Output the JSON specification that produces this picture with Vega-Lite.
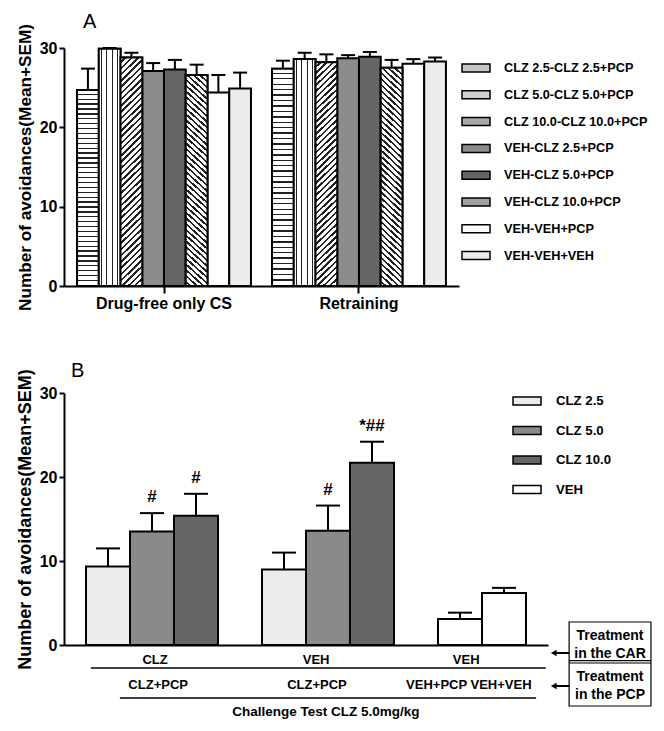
{
  "$schema": "https://vega.github.io/schema/vega-lite/v6.json",
  "padding": {"left": 16, "top": 12, "right": 0, "bottom": 0},
  "background": "white",
  "config": {
    "font": "Liberation Sans",
    "view": {"stroke": null},
    "axis": {"domainColor": "black", "domainWidth": 2, "tickColor": "black", "tickWidth": 2, "labelColor": "black", "titleColor": "black", "labelFont": "Liberation Sans", "titleFont": "Liberation Sans", "labelFontWeight": "bold", "titleFontWeight": "bold", "grid": false},
    "legend": {"labelFont": "Liberation Sans", "labelColor": "black", "labelFontWeight": "bold", "labelLimit": 300},
    "title": {"font": "Liberation Sans", "color": "black", "fontWeight": "normal"}
  },
  "spacing": 49,
  "resolve": {"scale": {"fill": "independent"}, "legend": {"fill": "independent"}},
  "vconcat": [
    {
      "title": {"text": "A", "anchor": "start", "frame": "group", "fontSize": 20, "dx": 19, "offset": -9},
      "width": 395,
      "height": 238,
      "data": {"values": [
        {"phase": "Drug-free only CS", "group": "CLZ 2.5-CLZ 2.5+PCP", "mean": 24.7, "upper": 27.4},
        {"phase": "Drug-free only CS", "group": "CLZ 5.0-CLZ 5.0+PCP", "mean": 29.9, "upper": 30.0},
        {"phase": "Drug-free only CS", "group": "CLZ 10.0-CLZ 10.0+PCP", "mean": 28.8, "upper": 29.4},
        {"phase": "Drug-free only CS", "group": "VEH-CLZ 2.5+PCP", "mean": 27.1, "upper": 28.1},
        {"phase": "Drug-free only CS", "group": "VEH-CLZ 5.0+PCP", "mean": 27.3, "upper": 28.5},
        {"phase": "Drug-free only CS", "group": "VEH-CLZ 10.0+PCP", "mean": 26.6, "upper": 27.9},
        {"phase": "Drug-free only CS", "group": "VEH-VEH+PCP", "mean": 24.4, "upper": 26.6},
        {"phase": "Drug-free only CS", "group": "VEH-VEH+VEH", "mean": 24.9, "upper": 26.9},
        {"phase": "Retraining", "group": "CLZ 2.5-CLZ 2.5+PCP", "mean": 27.4, "upper": 28.4},
        {"phase": "Retraining", "group": "CLZ 5.0-CLZ 5.0+PCP", "mean": 28.6, "upper": 29.4},
        {"phase": "Retraining", "group": "CLZ 10.0-CLZ 10.0+PCP", "mean": 28.2, "upper": 29.2},
        {"phase": "Retraining", "group": "VEH-CLZ 2.5+PCP", "mean": 28.7, "upper": 29.1},
        {"phase": "Retraining", "group": "VEH-CLZ 5.0+PCP", "mean": 28.9, "upper": 29.5},
        {"phase": "Retraining", "group": "VEH-CLZ 10.0+PCP", "mean": 27.5, "upper": 28.5},
        {"phase": "Retraining", "group": "VEH-VEH+PCP", "mean": 28.0, "upper": 28.6},
        {"phase": "Retraining", "group": "VEH-VEH+VEH", "mean": 28.3, "upper": 28.8}
      ]},
      "encoding": {
        "x": {"field": "phase", "type": "nominal", "sort": ["Drug-free only CS", "Retraining"], "scale": {"paddingInner": 0.108, "paddingOuter": 0.067}, "axis": {"title": null, "labelAngle": 0, "labelFontSize": 16, "tickSize": 7, "labelPadding": 2}},
        "xOffset": {"field": "group", "type": "nominal", "scale": {"domain": ["CLZ 2.5-CLZ 2.5+PCP", "CLZ 5.0-CLZ 5.0+PCP", "CLZ 10.0-CLZ 10.0+PCP", "VEH-CLZ 2.5+PCP", "VEH-CLZ 5.0+PCP", "VEH-CLZ 10.0+PCP", "VEH-VEH+PCP", "VEH-VEH+VEH"], "paddingInner": 0, "paddingOuter": 0}},
        "y": {"field": "mean", "type": "quantitative", "title": "Number of avoidances(Mean+SEM)", "scale": {"domain": [0, 30], "nice": false}, "axis": {"values": [0, 10, 20, 30], "titleFontSize": 17.2, "labelFontSize": 16, "tickSize": 5, "labelPadding": 2, "titlePadding": 5}}
      },
      "layer": [
        {
          "mark": {"type": "bar", "stroke": "black", "strokeWidth": 2},
          "encoding": {
            "fill": {
              "field": "group", "type": "nominal",
              "scale": {
                "domain": ["CLZ 2.5-CLZ 2.5+PCP", "CLZ 5.0-CLZ 5.0+PCP", "CLZ 10.0-CLZ 10.0+PCP", "VEH-CLZ 2.5+PCP", "VEH-CLZ 5.0+PCP", "VEH-CLZ 10.0+PCP", "VEH-VEH+PCP", "VEH-VEH+VEH"],
                "range": ["#c4c4c4", "#cfcfcf", "#a8a8a8", "#8c8c8c", "#666666", "#a0a0a0", "#ffffff", "#ececec"]
              },
              "legend": {"title": null, "orient": "none", "legendX": 397, "legendY": 5, "symbolType": "M-1,-0.286H1V0.286H-1Z", "symbolSize": 784, "symbolStrokeColor": "black", "symbolStrokeWidth": 1.5, "labelFontSize": 12.7, "labelOffset": 13, "rowPadding": 3.8}
            }
          }
        },
        {
          "transform": [{"filter": "datum.group === 'CLZ 2.5-CLZ 2.5+PCP'"}],
          "mark": {"type": "bar", "stroke": "black", "strokeWidth": 2, "fill": {"gradient": "linear", "x1": 0, "y1": 0, "x2": 0, "y2": 1, "stops": [
            {"offset": 0, "color": "#fff"}, {"offset": 0.0185, "color": "#fff"}, {"offset": 0.0185, "color": "#222"}, {"offset": 0.025, "color": "#222"},
            {"offset": 0.025, "color": "#fff"}, {"offset": 0.0435, "color": "#fff"}, {"offset": 0.0435, "color": "#222"}, {"offset": 0.05, "color": "#222"},
            {"offset": 0.05, "color": "#fff"}, {"offset": 0.0685, "color": "#fff"}, {"offset": 0.0685, "color": "#222"}, {"offset": 0.075, "color": "#222"},
            {"offset": 0.075, "color": "#fff"}, {"offset": 0.0935, "color": "#fff"}, {"offset": 0.0935, "color": "#222"}, {"offset": 0.1, "color": "#222"},
            {"offset": 0.1, "color": "#fff"}, {"offset": 0.1185, "color": "#fff"}, {"offset": 0.1185, "color": "#222"}, {"offset": 0.125, "color": "#222"},
            {"offset": 0.125, "color": "#fff"}, {"offset": 0.1435, "color": "#fff"}, {"offset": 0.1435, "color": "#222"}, {"offset": 0.15, "color": "#222"},
            {"offset": 0.15, "color": "#fff"}, {"offset": 0.1685, "color": "#fff"}, {"offset": 0.1685, "color": "#222"}, {"offset": 0.175, "color": "#222"},
            {"offset": 0.175, "color": "#fff"}, {"offset": 0.1935, "color": "#fff"}, {"offset": 0.1935, "color": "#222"}, {"offset": 0.2, "color": "#222"},
            {"offset": 0.2, "color": "#fff"}, {"offset": 0.2185, "color": "#fff"}, {"offset": 0.2185, "color": "#222"}, {"offset": 0.225, "color": "#222"},
            {"offset": 0.225, "color": "#fff"}, {"offset": 0.2435, "color": "#fff"}, {"offset": 0.2435, "color": "#222"}, {"offset": 0.25, "color": "#222"},
            {"offset": 0.25, "color": "#fff"}, {"offset": 0.2685, "color": "#fff"}, {"offset": 0.2685, "color": "#222"}, {"offset": 0.275, "color": "#222"},
            {"offset": 0.275, "color": "#fff"}, {"offset": 0.2935, "color": "#fff"}, {"offset": 0.2935, "color": "#222"}, {"offset": 0.3, "color": "#222"},
            {"offset": 0.3, "color": "#fff"}, {"offset": 0.3185, "color": "#fff"}, {"offset": 0.3185, "color": "#222"}, {"offset": 0.325, "color": "#222"},
            {"offset": 0.325, "color": "#fff"}, {"offset": 0.3435, "color": "#fff"}, {"offset": 0.3435, "color": "#222"}, {"offset": 0.35, "color": "#222"},
            {"offset": 0.35, "color": "#fff"}, {"offset": 0.3685, "color": "#fff"}, {"offset": 0.3685, "color": "#222"}, {"offset": 0.375, "color": "#222"},
            {"offset": 0.375, "color": "#fff"}, {"offset": 0.3935, "color": "#fff"}, {"offset": 0.3935, "color": "#222"}, {"offset": 0.4, "color": "#222"},
            {"offset": 0.4, "color": "#fff"}, {"offset": 0.4185, "color": "#fff"}, {"offset": 0.4185, "color": "#222"}, {"offset": 0.425, "color": "#222"},
            {"offset": 0.425, "color": "#fff"}, {"offset": 0.4435, "color": "#fff"}, {"offset": 0.4435, "color": "#222"}, {"offset": 0.45, "color": "#222"},
            {"offset": 0.45, "color": "#fff"}, {"offset": 0.4685, "color": "#fff"}, {"offset": 0.4685, "color": "#222"}, {"offset": 0.475, "color": "#222"},
            {"offset": 0.475, "color": "#fff"}, {"offset": 0.4935, "color": "#fff"}, {"offset": 0.4935, "color": "#222"}, {"offset": 0.5, "color": "#222"},
            {"offset": 0.5, "color": "#fff"}, {"offset": 0.5185, "color": "#fff"}, {"offset": 0.5185, "color": "#222"}, {"offset": 0.525, "color": "#222"},
            {"offset": 0.525, "color": "#fff"}, {"offset": 0.5435, "color": "#fff"}, {"offset": 0.5435, "color": "#222"}, {"offset": 0.55, "color": "#222"},
            {"offset": 0.55, "color": "#fff"}, {"offset": 0.5685, "color": "#fff"}, {"offset": 0.5685, "color": "#222"}, {"offset": 0.575, "color": "#222"},
            {"offset": 0.575, "color": "#fff"}, {"offset": 0.5935, "color": "#fff"}, {"offset": 0.5935, "color": "#222"}, {"offset": 0.6, "color": "#222"},
            {"offset": 0.6, "color": "#fff"}, {"offset": 0.6185, "color": "#fff"}, {"offset": 0.6185, "color": "#222"}, {"offset": 0.625, "color": "#222"},
            {"offset": 0.625, "color": "#fff"}, {"offset": 0.6435, "color": "#fff"}, {"offset": 0.6435, "color": "#222"}, {"offset": 0.65, "color": "#222"},
            {"offset": 0.65, "color": "#fff"}, {"offset": 0.6685, "color": "#fff"}, {"offset": 0.6685, "color": "#222"}, {"offset": 0.675, "color": "#222"},
            {"offset": 0.675, "color": "#fff"}, {"offset": 0.6935, "color": "#fff"}, {"offset": 0.6935, "color": "#222"}, {"offset": 0.7, "color": "#222"},
            {"offset": 0.7, "color": "#fff"}, {"offset": 0.7185, "color": "#fff"}, {"offset": 0.7185, "color": "#222"}, {"offset": 0.725, "color": "#222"},
            {"offset": 0.725, "color": "#fff"}, {"offset": 0.7435, "color": "#fff"}, {"offset": 0.7435, "color": "#222"}, {"offset": 0.75, "color": "#222"},
            {"offset": 0.75, "color": "#fff"}, {"offset": 0.7685, "color": "#fff"}, {"offset": 0.7685, "color": "#222"}, {"offset": 0.775, "color": "#222"},
            {"offset": 0.775, "color": "#fff"}, {"offset": 0.7935, "color": "#fff"}, {"offset": 0.7935, "color": "#222"}, {"offset": 0.8, "color": "#222"},
            {"offset": 0.8, "color": "#fff"}, {"offset": 0.8185, "color": "#fff"}, {"offset": 0.8185, "color": "#222"}, {"offset": 0.825, "color": "#222"},
            {"offset": 0.825, "color": "#fff"}, {"offset": 0.8435, "color": "#fff"}, {"offset": 0.8435, "color": "#222"}, {"offset": 0.85, "color": "#222"},
            {"offset": 0.85, "color": "#fff"}, {"offset": 0.8685, "color": "#fff"}, {"offset": 0.8685, "color": "#222"}, {"offset": 0.875, "color": "#222"},
            {"offset": 0.875, "color": "#fff"}, {"offset": 0.8935, "color": "#fff"}, {"offset": 0.8935, "color": "#222"}, {"offset": 0.9, "color": "#222"},
            {"offset": 0.9, "color": "#fff"}, {"offset": 0.9185, "color": "#fff"}, {"offset": 0.9185, "color": "#222"}, {"offset": 0.925, "color": "#222"},
            {"offset": 0.925, "color": "#fff"}, {"offset": 0.9435, "color": "#fff"}, {"offset": 0.9435, "color": "#222"}, {"offset": 0.95, "color": "#222"},
            {"offset": 0.95, "color": "#fff"}, {"offset": 0.9685, "color": "#fff"}, {"offset": 0.9685, "color": "#222"}, {"offset": 0.975, "color": "#222"},
            {"offset": 0.975, "color": "#fff"}, {"offset": 0.9935, "color": "#fff"}, {"offset": 0.9935, "color": "#222"}, {"offset": 1, "color": "#222"}
          ]}},
          "encoding": {}
        },
        {
          "transform": [{"filter": "datum.group === 'CLZ 5.0-CLZ 5.0+PCP'"}],
          "mark": {"type": "bar", "stroke": "black", "strokeWidth": 2, "fill": {"gradient": "linear", "x1": 0, "y1": 0, "x2": 1, "y2": 0, "stops": [
            {"offset": 0, "color": "#fff"}, {"offset": 0.1, "color": "#fff"}, {"offset": 0.1, "color": "#222"}, {"offset": 0.15, "color": "#222"},
            {"offset": 0.15, "color": "#fff"}, {"offset": 0.35, "color": "#fff"}, {"offset": 0.35, "color": "#222"}, {"offset": 0.4, "color": "#222"},
            {"offset": 0.4, "color": "#fff"}, {"offset": 0.6, "color": "#fff"}, {"offset": 0.6, "color": "#222"}, {"offset": 0.65, "color": "#222"},
            {"offset": 0.65, "color": "#fff"}, {"offset": 0.85, "color": "#fff"}, {"offset": 0.85, "color": "#222"}, {"offset": 0.9, "color": "#222"},
            {"offset": 0.9, "color": "#fff"}, {"offset": 1, "color": "#fff"}
          ]}},
          "encoding": {}
        },
        {
          "transform": [{"filter": "datum.group === 'CLZ 10.0-CLZ 10.0+PCP'"}],
          "mark": {"type": "bar", "stroke": "black", "strokeWidth": 2, "fill": {"gradient": "linear", "x1": 0, "y1": 0, "x2": 0.1008, "y2": 1.0837, "stops": [
            {"offset": 0, "color": "#fff"}, {"offset": 0.015, "color": "#fff"}, {"offset": 0.015, "color": "#222"}, {"offset": 0.025, "color": "#222"},
            {"offset": 0.025, "color": "#fff"}, {"offset": 0.04, "color": "#fff"}, {"offset": 0.04, "color": "#222"}, {"offset": 0.05, "color": "#222"},
            {"offset": 0.05, "color": "#fff"}, {"offset": 0.065, "color": "#fff"}, {"offset": 0.065, "color": "#222"}, {"offset": 0.075, "color": "#222"},
            {"offset": 0.075, "color": "#fff"}, {"offset": 0.09, "color": "#fff"}, {"offset": 0.09, "color": "#222"}, {"offset": 0.1, "color": "#222"},
            {"offset": 0.1, "color": "#fff"}, {"offset": 0.115, "color": "#fff"}, {"offset": 0.115, "color": "#222"}, {"offset": 0.125, "color": "#222"},
            {"offset": 0.125, "color": "#fff"}, {"offset": 0.14, "color": "#fff"}, {"offset": 0.14, "color": "#222"}, {"offset": 0.15, "color": "#222"},
            {"offset": 0.15, "color": "#fff"}, {"offset": 0.165, "color": "#fff"}, {"offset": 0.165, "color": "#222"}, {"offset": 0.175, "color": "#222"},
            {"offset": 0.175, "color": "#fff"}, {"offset": 0.19, "color": "#fff"}, {"offset": 0.19, "color": "#222"}, {"offset": 0.2, "color": "#222"},
            {"offset": 0.2, "color": "#fff"}, {"offset": 0.215, "color": "#fff"}, {"offset": 0.215, "color": "#222"}, {"offset": 0.225, "color": "#222"},
            {"offset": 0.225, "color": "#fff"}, {"offset": 0.24, "color": "#fff"}, {"offset": 0.24, "color": "#222"}, {"offset": 0.25, "color": "#222"},
            {"offset": 0.25, "color": "#fff"}, {"offset": 0.265, "color": "#fff"}, {"offset": 0.265, "color": "#222"}, {"offset": 0.275, "color": "#222"},
            {"offset": 0.275, "color": "#fff"}, {"offset": 0.29, "color": "#fff"}, {"offset": 0.29, "color": "#222"}, {"offset": 0.3, "color": "#222"},
            {"offset": 0.3, "color": "#fff"}, {"offset": 0.315, "color": "#fff"}, {"offset": 0.315, "color": "#222"}, {"offset": 0.325, "color": "#222"},
            {"offset": 0.325, "color": "#fff"}, {"offset": 0.34, "color": "#fff"}, {"offset": 0.34, "color": "#222"}, {"offset": 0.35, "color": "#222"},
            {"offset": 0.35, "color": "#fff"}, {"offset": 0.365, "color": "#fff"}, {"offset": 0.365, "color": "#222"}, {"offset": 0.375, "color": "#222"},
            {"offset": 0.375, "color": "#fff"}, {"offset": 0.39, "color": "#fff"}, {"offset": 0.39, "color": "#222"}, {"offset": 0.4, "color": "#222"},
            {"offset": 0.4, "color": "#fff"}, {"offset": 0.415, "color": "#fff"}, {"offset": 0.415, "color": "#222"}, {"offset": 0.425, "color": "#222"},
            {"offset": 0.425, "color": "#fff"}, {"offset": 0.44, "color": "#fff"}, {"offset": 0.44, "color": "#222"}, {"offset": 0.45, "color": "#222"},
            {"offset": 0.45, "color": "#fff"}, {"offset": 0.465, "color": "#fff"}, {"offset": 0.465, "color": "#222"}, {"offset": 0.475, "color": "#222"},
            {"offset": 0.475, "color": "#fff"}, {"offset": 0.49, "color": "#fff"}, {"offset": 0.49, "color": "#222"}, {"offset": 0.5, "color": "#222"},
            {"offset": 0.5, "color": "#fff"}, {"offset": 0.515, "color": "#fff"}, {"offset": 0.515, "color": "#222"}, {"offset": 0.525, "color": "#222"},
            {"offset": 0.525, "color": "#fff"}, {"offset": 0.54, "color": "#fff"}, {"offset": 0.54, "color": "#222"}, {"offset": 0.55, "color": "#222"},
            {"offset": 0.55, "color": "#fff"}, {"offset": 0.565, "color": "#fff"}, {"offset": 0.565, "color": "#222"}, {"offset": 0.575, "color": "#222"},
            {"offset": 0.575, "color": "#fff"}, {"offset": 0.59, "color": "#fff"}, {"offset": 0.59, "color": "#222"}, {"offset": 0.6, "color": "#222"},
            {"offset": 0.6, "color": "#fff"}, {"offset": 0.615, "color": "#fff"}, {"offset": 0.615, "color": "#222"}, {"offset": 0.625, "color": "#222"},
            {"offset": 0.625, "color": "#fff"}, {"offset": 0.64, "color": "#fff"}, {"offset": 0.64, "color": "#222"}, {"offset": 0.65, "color": "#222"},
            {"offset": 0.65, "color": "#fff"}, {"offset": 0.665, "color": "#fff"}, {"offset": 0.665, "color": "#222"}, {"offset": 0.675, "color": "#222"},
            {"offset": 0.675, "color": "#fff"}, {"offset": 0.69, "color": "#fff"}, {"offset": 0.69, "color": "#222"}, {"offset": 0.7, "color": "#222"},
            {"offset": 0.7, "color": "#fff"}, {"offset": 0.715, "color": "#fff"}, {"offset": 0.715, "color": "#222"}, {"offset": 0.725, "color": "#222"},
            {"offset": 0.725, "color": "#fff"}, {"offset": 0.74, "color": "#fff"}, {"offset": 0.74, "color": "#222"}, {"offset": 0.75, "color": "#222"},
            {"offset": 0.75, "color": "#fff"}, {"offset": 0.765, "color": "#fff"}, {"offset": 0.765, "color": "#222"}, {"offset": 0.775, "color": "#222"},
            {"offset": 0.775, "color": "#fff"}, {"offset": 0.79, "color": "#fff"}, {"offset": 0.79, "color": "#222"}, {"offset": 0.8, "color": "#222"},
            {"offset": 0.8, "color": "#fff"}, {"offset": 0.815, "color": "#fff"}, {"offset": 0.815, "color": "#222"}, {"offset": 0.825, "color": "#222"},
            {"offset": 0.825, "color": "#fff"}, {"offset": 0.84, "color": "#fff"}, {"offset": 0.84, "color": "#222"}, {"offset": 0.85, "color": "#222"},
            {"offset": 0.85, "color": "#fff"}, {"offset": 0.865, "color": "#fff"}, {"offset": 0.865, "color": "#222"}, {"offset": 0.875, "color": "#222"},
            {"offset": 0.875, "color": "#fff"}, {"offset": 0.89, "color": "#fff"}, {"offset": 0.89, "color": "#222"}, {"offset": 0.9, "color": "#222"},
            {"offset": 0.9, "color": "#fff"}, {"offset": 0.915, "color": "#fff"}, {"offset": 0.915, "color": "#222"}, {"offset": 0.925, "color": "#222"},
            {"offset": 0.925, "color": "#fff"}, {"offset": 0.94, "color": "#fff"}, {"offset": 0.94, "color": "#222"}, {"offset": 0.95, "color": "#222"},
            {"offset": 0.95, "color": "#fff"}, {"offset": 0.965, "color": "#fff"}, {"offset": 0.965, "color": "#222"}, {"offset": 0.975, "color": "#222"},
            {"offset": 0.975, "color": "#fff"}, {"offset": 0.99, "color": "#fff"}, {"offset": 0.99, "color": "#222"}, {"offset": 1, "color": "#222"}
          ]}},
          "encoding": {}
        },
        {
          "transform": [{"filter": "datum.group === 'VEH-CLZ 10.0+PCP'"}],
          "mark": {"type": "bar", "stroke": "black", "strokeWidth": 2, "fill": {"gradient": "linear", "x1": 0, "y1": 1, "x2": 0.1008, "y2": -0.0837, "stops": [
            {"offset": 0, "color": "#fff"}, {"offset": 0.015, "color": "#fff"}, {"offset": 0.015, "color": "#222"}, {"offset": 0.025, "color": "#222"},
            {"offset": 0.025, "color": "#fff"}, {"offset": 0.04, "color": "#fff"}, {"offset": 0.04, "color": "#222"}, {"offset": 0.05, "color": "#222"},
            {"offset": 0.05, "color": "#fff"}, {"offset": 0.065, "color": "#fff"}, {"offset": 0.065, "color": "#222"}, {"offset": 0.075, "color": "#222"},
            {"offset": 0.075, "color": "#fff"}, {"offset": 0.09, "color": "#fff"}, {"offset": 0.09, "color": "#222"}, {"offset": 0.1, "color": "#222"},
            {"offset": 0.1, "color": "#fff"}, {"offset": 0.115, "color": "#fff"}, {"offset": 0.115, "color": "#222"}, {"offset": 0.125, "color": "#222"},
            {"offset": 0.125, "color": "#fff"}, {"offset": 0.14, "color": "#fff"}, {"offset": 0.14, "color": "#222"}, {"offset": 0.15, "color": "#222"},
            {"offset": 0.15, "color": "#fff"}, {"offset": 0.165, "color": "#fff"}, {"offset": 0.165, "color": "#222"}, {"offset": 0.175, "color": "#222"},
            {"offset": 0.175, "color": "#fff"}, {"offset": 0.19, "color": "#fff"}, {"offset": 0.19, "color": "#222"}, {"offset": 0.2, "color": "#222"},
            {"offset": 0.2, "color": "#fff"}, {"offset": 0.215, "color": "#fff"}, {"offset": 0.215, "color": "#222"}, {"offset": 0.225, "color": "#222"},
            {"offset": 0.225, "color": "#fff"}, {"offset": 0.24, "color": "#fff"}, {"offset": 0.24, "color": "#222"}, {"offset": 0.25, "color": "#222"},
            {"offset": 0.25, "color": "#fff"}, {"offset": 0.265, "color": "#fff"}, {"offset": 0.265, "color": "#222"}, {"offset": 0.275, "color": "#222"},
            {"offset": 0.275, "color": "#fff"}, {"offset": 0.29, "color": "#fff"}, {"offset": 0.29, "color": "#222"}, {"offset": 0.3, "color": "#222"},
            {"offset": 0.3, "color": "#fff"}, {"offset": 0.315, "color": "#fff"}, {"offset": 0.315, "color": "#222"}, {"offset": 0.325, "color": "#222"},
            {"offset": 0.325, "color": "#fff"}, {"offset": 0.34, "color": "#fff"}, {"offset": 0.34, "color": "#222"}, {"offset": 0.35, "color": "#222"},
            {"offset": 0.35, "color": "#fff"}, {"offset": 0.365, "color": "#fff"}, {"offset": 0.365, "color": "#222"}, {"offset": 0.375, "color": "#222"},
            {"offset": 0.375, "color": "#fff"}, {"offset": 0.39, "color": "#fff"}, {"offset": 0.39, "color": "#222"}, {"offset": 0.4, "color": "#222"},
            {"offset": 0.4, "color": "#fff"}, {"offset": 0.415, "color": "#fff"}, {"offset": 0.415, "color": "#222"}, {"offset": 0.425, "color": "#222"},
            {"offset": 0.425, "color": "#fff"}, {"offset": 0.44, "color": "#fff"}, {"offset": 0.44, "color": "#222"}, {"offset": 0.45, "color": "#222"},
            {"offset": 0.45, "color": "#fff"}, {"offset": 0.465, "color": "#fff"}, {"offset": 0.465, "color": "#222"}, {"offset": 0.475, "color": "#222"},
            {"offset": 0.475, "color": "#fff"}, {"offset": 0.49, "color": "#fff"}, {"offset": 0.49, "color": "#222"}, {"offset": 0.5, "color": "#222"},
            {"offset": 0.5, "color": "#fff"}, {"offset": 0.515, "color": "#fff"}, {"offset": 0.515, "color": "#222"}, {"offset": 0.525, "color": "#222"},
            {"offset": 0.525, "color": "#fff"}, {"offset": 0.54, "color": "#fff"}, {"offset": 0.54, "color": "#222"}, {"offset": 0.55, "color": "#222"},
            {"offset": 0.55, "color": "#fff"}, {"offset": 0.565, "color": "#fff"}, {"offset": 0.565, "color": "#222"}, {"offset": 0.575, "color": "#222"},
            {"offset": 0.575, "color": "#fff"}, {"offset": 0.59, "color": "#fff"}, {"offset": 0.59, "color": "#222"}, {"offset": 0.6, "color": "#222"},
            {"offset": 0.6, "color": "#fff"}, {"offset": 0.615, "color": "#fff"}, {"offset": 0.615, "color": "#222"}, {"offset": 0.625, "color": "#222"},
            {"offset": 0.625, "color": "#fff"}, {"offset": 0.64, "color": "#fff"}, {"offset": 0.64, "color": "#222"}, {"offset": 0.65, "color": "#222"},
            {"offset": 0.65, "color": "#fff"}, {"offset": 0.665, "color": "#fff"}, {"offset": 0.665, "color": "#222"}, {"offset": 0.675, "color": "#222"},
            {"offset": 0.675, "color": "#fff"}, {"offset": 0.69, "color": "#fff"}, {"offset": 0.69, "color": "#222"}, {"offset": 0.7, "color": "#222"},
            {"offset": 0.7, "color": "#fff"}, {"offset": 0.715, "color": "#fff"}, {"offset": 0.715, "color": "#222"}, {"offset": 0.725, "color": "#222"},
            {"offset": 0.725, "color": "#fff"}, {"offset": 0.74, "color": "#fff"}, {"offset": 0.74, "color": "#222"}, {"offset": 0.75, "color": "#222"},
            {"offset": 0.75, "color": "#fff"}, {"offset": 0.765, "color": "#fff"}, {"offset": 0.765, "color": "#222"}, {"offset": 0.775, "color": "#222"},
            {"offset": 0.775, "color": "#fff"}, {"offset": 0.79, "color": "#fff"}, {"offset": 0.79, "color": "#222"}, {"offset": 0.8, "color": "#222"},
            {"offset": 0.8, "color": "#fff"}, {"offset": 0.815, "color": "#fff"}, {"offset": 0.815, "color": "#222"}, {"offset": 0.825, "color": "#222"},
            {"offset": 0.825, "color": "#fff"}, {"offset": 0.84, "color": "#fff"}, {"offset": 0.84, "color": "#222"}, {"offset": 0.85, "color": "#222"},
            {"offset": 0.85, "color": "#fff"}, {"offset": 0.865, "color": "#fff"}, {"offset": 0.865, "color": "#222"}, {"offset": 0.875, "color": "#222"},
            {"offset": 0.875, "color": "#fff"}, {"offset": 0.89, "color": "#fff"}, {"offset": 0.89, "color": "#222"}, {"offset": 0.9, "color": "#222"},
            {"offset": 0.9, "color": "#fff"}, {"offset": 0.915, "color": "#fff"}, {"offset": 0.915, "color": "#222"}, {"offset": 0.925, "color": "#222"},
            {"offset": 0.925, "color": "#fff"}, {"offset": 0.94, "color": "#fff"}, {"offset": 0.94, "color": "#222"}, {"offset": 0.95, "color": "#222"},
            {"offset": 0.95, "color": "#fff"}, {"offset": 0.965, "color": "#fff"}, {"offset": 0.965, "color": "#222"}, {"offset": 0.975, "color": "#222"},
            {"offset": 0.975, "color": "#fff"}, {"offset": 0.99, "color": "#fff"}, {"offset": 0.99, "color": "#222"}, {"offset": 1, "color": "#222"}
          ]}},
          "encoding": {}
        },
        {
          "mark": {"type": "rule", "color": "black", "strokeWidth": 2},
          "encoding": {"y2": {"field": "upper"}}
        },
        {
          "mark": {"type": "tick", "color": "black", "size": 14, "thickness": 2, "opacity": 1},
          "encoding": {"y": {"field": "upper", "type": "quantitative", "title": "Number of avoidances(Mean+SEM)"}}
        }
      ]
    },
    {
      "title": {"text": "B", "anchor": "start", "frame": "group", "fontSize": 20, "dx": 7, "offset": -12},
      "width": 484,
      "height": 252,
      "resolve": {"scale": {"x": "independent"}},
      "layer": [
        {
          "data": {"values": [
            {"bar": "CLZ|CLZ 2.5", "dose": "CLZ 2.5", "mean": 9.34, "upper": 11.5},
            {"bar": "CLZ|CLZ 5.0", "dose": "CLZ 5.0", "mean": 13.5, "upper": 15.7, "sig": "#"},
            {"bar": "CLZ|CLZ 10.0", "dose": "CLZ 10.0", "mean": 15.4, "upper": 18.0, "sig": "#"},
            {"bar": "VEH|CLZ 2.5", "dose": "CLZ 2.5", "mean": 8.98, "upper": 11.0},
            {"bar": "VEH|CLZ 5.0", "dose": "CLZ 5.0", "mean": 13.6, "upper": 16.6, "sig": "#"},
            {"bar": "VEH|CLZ 10.0", "dose": "CLZ 10.0", "mean": 21.7, "upper": 24.2, "sig": "*##"},
            {"bar": "VEH|VEH+PCP", "dose": "VEH", "mean": 3.1, "upper": 3.85},
            {"bar": "VEH|VEH+VEH", "dose": "VEH", "mean": 6.2, "upper": 6.8}
          ]},
          "encoding": {
            "x": {"field": "bar", "type": "nominal", "scale": {"domain": ["CLZ|CLZ 2.5", "CLZ|CLZ 5.0", "CLZ|CLZ 10.0", "gap1", "VEH|CLZ 2.5", "VEH|CLZ 5.0", "VEH|CLZ 10.0", "gap2", "VEH|VEH+PCP", "VEH|VEH+VEH"], "paddingInner": 0, "paddingOuter": 0.5}, "axis": {"title": null, "labels": false, "ticks": false}},
            "y": {"field": "mean", "type": "quantitative", "title": "Number of avoidances(Mean+SEM)", "scale": {"domain": [0, 30], "nice": false}, "axis": {"values": [0, 10, 20, 30], "titleFontSize": 18, "labelFontSize": 16, "tickSize": 5, "labelPadding": 2, "titlePadding": 5}}
          },
          "layer": [
            {
              "mark": {"type": "bar", "stroke": "black", "strokeWidth": 2},
              "encoding": {
                "fill": {"field": "dose", "type": "nominal", "scale": {"domain": ["CLZ 2.5", "CLZ 5.0", "CLZ 10.0", "VEH"], "range": ["#ececec", "#8a8a8a", "#666666", "#ffffff"]},
                  "legend": {"title": null, "orient": "none", "legendX": 448, "legendY": -7, "symbolType": "M-1,-0.286H1V0.286H-1Z", "symbolSize": 784, "symbolStrokeColor": "black", "symbolStrokeWidth": 1.5, "labelFontSize": 13.2, "labelOffset": 14, "rowPadding": 6.5}}
              }
            },
            {
              "mark": {"type": "rule", "color": "black", "strokeWidth": 2},
              "encoding": {"y2": {"field": "upper"}}
            },
            {
              "mark": {"type": "tick", "color": "black", "size": 24, "thickness": 2, "opacity": 1},
              "encoding": {"y": {"field": "upper", "type": "quantitative", "title": "Number of avoidances(Mean+SEM)"}}
            },
            {
              "transform": [{"filter": "datum.sig"}],
              "mark": {"type": "text", "fontSize": 17, "fontWeight": "bold", "baseline": "alphabetic", "dy": -11, "color": "black"},
              "encoding": {"y": {"field": "upper", "type": "quantitative", "title": "Number of avoidances(Mean+SEM)"}, "text": {"field": "sig"}}
            }
          ]
        },
        {
          "data": {"values": [{}]},
          "layer": [
            {"mark": {"type": "rule", "color": "black", "strokeWidth": 1.5}, "encoding": {"x": {"datum": 0.61, "type": "quantitative", "scale": {"domain": [0, 11], "nice": false, "zero": false}, "axis": null}, "x2": {"datum": 10.95}, "y": {"datum": -2.74, "type": "quantitative"}}},
            {"mark": {"type": "rule", "color": "black", "strokeWidth": 1.5}, "encoding": {"x": {"datum": 1.27, "type": "quantitative", "scale": {"domain": [0, 11], "nice": false, "zero": false}, "axis": null}, "x2": {"datum": 10.73}, "y": {"datum": -6.3, "type": "quantitative"}}},
            {"mark": {"type": "text", "text": "CLZ", "fontSize": 13, "fontWeight": "bold", "color": "black"}, "encoding": {"x": {"datum": 2.07, "type": "quantitative", "scale": {"domain": [0, 11], "nice": false, "zero": false}, "axis": null}, "y": {"datum": -1.8, "type": "quantitative"}}},
            {"mark": {"type": "text", "text": "VEH", "fontSize": 13, "fontWeight": "bold", "color": "black"}, "encoding": {"x": {"datum": 5.73, "type": "quantitative", "scale": {"domain": [0, 11], "nice": false, "zero": false}, "axis": null}, "y": {"datum": -1.8, "type": "quantitative"}}},
            {"mark": {"type": "text", "text": "VEH", "fontSize": 13, "fontWeight": "bold", "color": "black"}, "encoding": {"x": {"datum": 9.14, "type": "quantitative", "scale": {"domain": [0, 11], "nice": false, "zero": false}, "axis": null}, "y": {"datum": -1.8, "type": "quantitative"}}},
            {"mark": {"type": "text", "text": "CLZ+PCP", "fontSize": 13, "fontWeight": "bold", "color": "black"}, "encoding": {"x": {"datum": 2.14, "type": "quantitative", "scale": {"domain": [0, 11], "nice": false, "zero": false}, "axis": null}, "y": {"datum": -4.76, "type": "quantitative"}}},
            {"mark": {"type": "text", "text": "CLZ+PCP", "fontSize": 13, "fontWeight": "bold", "color": "black"}, "encoding": {"x": {"datum": 5.75, "type": "quantitative", "scale": {"domain": [0, 11], "nice": false, "zero": false}, "axis": null}, "y": {"datum": -4.76, "type": "quantitative"}}},
            {"mark": {"type": "text", "text": "VEH+PCP VEH+VEH", "fontSize": 13, "fontWeight": "bold", "color": "black"}, "encoding": {"x": {"datum": 9.2, "type": "quantitative", "scale": {"domain": [0, 11], "nice": false, "zero": false}, "axis": null}, "y": {"datum": -4.76, "type": "quantitative"}}},
            {"mark": {"type": "text", "text": "Challenge Test CLZ 5.0mg/kg", "fontSize": 13.5, "fontWeight": "bold", "color": "black"}, "encoding": {"x": {"datum": 5.95, "type": "quantitative", "scale": {"domain": [0, 11], "nice": false, "zero": false}, "axis": null}, "y": {"datum": -7.98, "type": "quantitative"}}},
            {"mark": {"type": "rect", "fill": "white", "stroke": "black", "strokeWidth": 1.2}, "encoding": {"x": {"datum": 11.48, "type": "quantitative", "scale": {"domain": [0, 11], "nice": false, "zero": false}, "axis": null}, "x2": {"datum": 13.34}, "y": {"datum": 2.74, "type": "quantitative"}, "y2": {"datum": -7.26}}},
            {"mark": {"type": "rule", "color": "black", "strokeWidth": 1.2}, "encoding": {"x": {"datum": 11.48, "type": "quantitative", "scale": {"domain": [0, 11], "nice": false, "zero": false}, "axis": null}, "x2": {"datum": 13.34}, "y": {"datum": -1.87, "type": "quantitative"}}},
            {"mark": {"type": "rule", "color": "black", "strokeWidth": 1.2}, "encoding": {"x": {"datum": 11.48, "type": "quantitative", "scale": {"domain": [0, 11], "nice": false, "zero": false}, "axis": null}, "x2": {"datum": 13.34}, "y": {"datum": -2.14, "type": "quantitative"}}},
            {"mark": {"type": "text", "text": "Treatment", "fontSize": 14, "fontWeight": "bold", "color": "black"}, "encoding": {"x": {"datum": 12.41, "type": "quantitative", "scale": {"domain": [0, 11], "nice": false, "zero": false}, "axis": null}, "y": {"datum": 1.07, "type": "quantitative"}}},
            {"mark": {"type": "text", "text": "in the CAR", "fontSize": 14, "fontWeight": "bold", "color": "black"}, "encoding": {"x": {"datum": 12.41, "type": "quantitative", "scale": {"domain": [0, 11], "nice": false, "zero": false}, "axis": null}, "y": {"datum": -1.07, "type": "quantitative"}}},
            {"mark": {"type": "text", "text": "Treatment", "fontSize": 14, "fontWeight": "bold", "color": "black"}, "encoding": {"x": {"datum": 12.41, "type": "quantitative", "scale": {"domain": [0, 11], "nice": false, "zero": false}, "axis": null}, "y": {"datum": -3.8, "type": "quantitative"}}},
            {"mark": {"type": "text", "text": "in the PCP", "fontSize": 14, "fontWeight": "bold", "color": "black"}, "encoding": {"x": {"datum": 12.41, "type": "quantitative", "scale": {"domain": [0, 11], "nice": false, "zero": false}, "axis": null}, "y": {"datum": -5.95, "type": "quantitative"}}},
            {"mark": {"type": "rule", "color": "black", "strokeWidth": 2}, "encoding": {"x": {"datum": 11.15, "type": "quantitative", "scale": {"domain": [0, 11], "nice": false, "zero": false}, "axis": null}, "x2": {"datum": 11.48}, "y": {"datum": -0.95, "type": "quantitative"}}},
            {"mark": {"type": "rule", "color": "black", "strokeWidth": 2}, "encoding": {"x": {"datum": 11.15, "type": "quantitative", "scale": {"domain": [0, 11], "nice": false, "zero": false}, "axis": null}, "x2": {"datum": 11.48}, "y": {"datum": -4.88, "type": "quantitative"}}},
            {"mark": {"type": "point", "shape": "triangle-left", "filled": true, "color": "black", "size": 45, "opacity": 1}, "encoding": {"x": {"datum": 11.13, "type": "quantitative", "scale": {"domain": [0, 11], "nice": false, "zero": false}, "axis": null}, "y": {"datum": -0.95, "type": "quantitative"}}},
            {"mark": {"type": "point", "shape": "triangle-left", "filled": true, "color": "black", "size": 45, "opacity": 1}, "encoding": {"x": {"datum": 11.13, "type": "quantitative", "scale": {"domain": [0, 11], "nice": false, "zero": false}, "axis": null}, "y": {"datum": -4.88, "type": "quantitative"}}}
          ]
        }
      ]
    }
  ]
}
